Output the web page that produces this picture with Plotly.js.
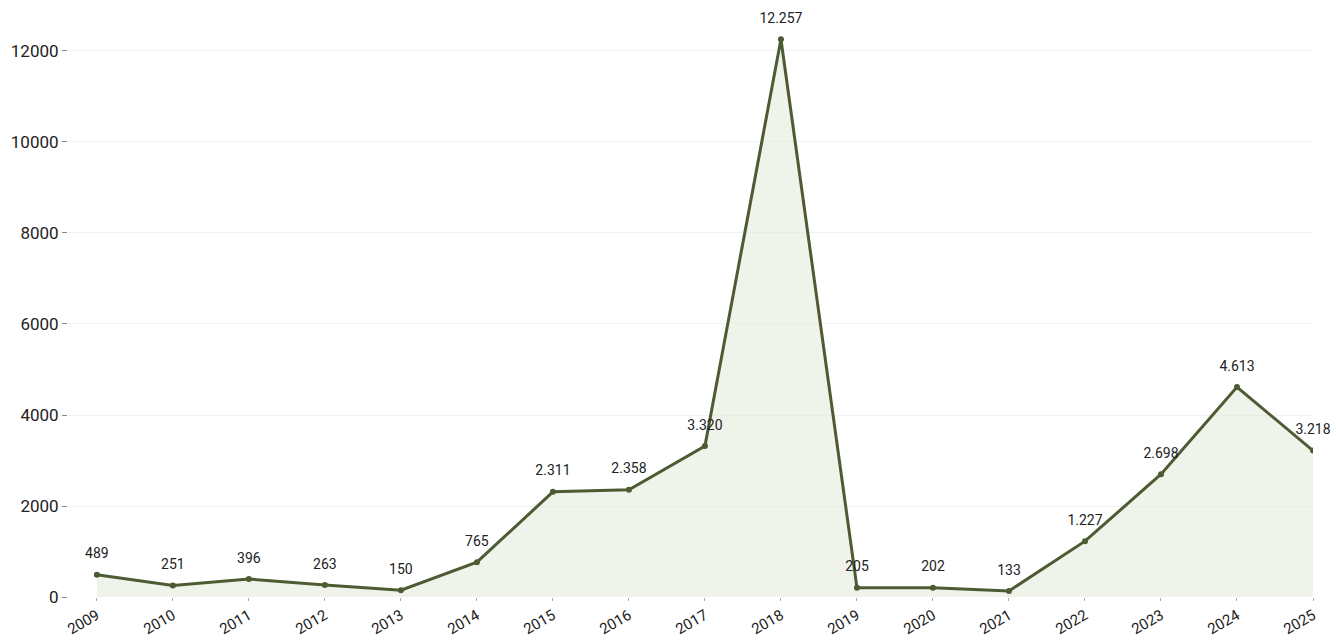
<!DOCTYPE html>
<html>
<head>
<meta charset="utf-8">
<script src="https://cdn.plot.ly/plotly-3.0.1.min.js"></script>
<style>html,body{margin:0;padding:0;background:#fff;}#chart{width:1336px;height:641px;}</style>
</head>
<body>
<div id="chart"></div>
<script>
const years = [2009,2010,2011,2012,2013,2014,2015,2016,2017,2018,2019,2020,2021,2022,2023,2024,2025];
const values = [489,251,396,263,150,765,2311,2358,3320,12257,205,202,133,1227,2698,4613,3218];
const yTicks = [0,2000,4000,6000,8000,10000,12000];

const lineTrace = {
  x: years,
  y: values,
  type: 'scatter',
  mode: 'lines+markers',
  fill: 'tozeroy',
  fillcolor: 'rgba(226,234,216,0.55)',
  line: {color: '#4d5b33', width: 3},
  marker: {color: '#4d5b33', size: 6},
  hoverinfo: 'x+y'
};

const labelTrace = {
  x: years,
  y: values,
  type: 'scatter',
  mode: 'markers+text',
  marker: {color: 'rgba(0,0,0,0)', size: 19},
  texttemplate: '%{y:,d}',
  textposition: 'top center',
  textfont: {family: 'Roboto, sans-serif', size: 14, color: '#222'},
  cliponaxis: false,
  hoverinfo: 'skip'
};

const layout = {
  width: 1336, height: 641,
  margin: {l: 68, r: 23, t: 20, b: 44},
  paper_bgcolor: '#fff', plot_bgcolor: '#fff',
  separators: ',.',
  showlegend: false,
  font: {family: 'Roboto, sans-serif', size: 15, color: '#222'},
  xaxis: {
    range: [2008.62, 2025],
    tickvals: years,
    ticktext: years.map(String),
    tickangle: -30,
    ticks: 'outside', ticklen: 3, tickcolor: '#aaa',
    showgrid: false, zeroline: false, showline: false,
    tickfont: {size: 15, color: '#222'}
  },
  yaxis: {
    range: [0, 12681],
    tickvals: yTicks,
    tickformat: 'd',
    ticks: 'outside', ticklen: 5, tickcolor: '#888',
    showgrid: true, gridcolor: '#f1f1f1', gridwidth: 1,
    zeroline: false, showline: false,
    tickfont: {size: 17, color: '#222'}
  }
};

Plotly.newPlot('chart', [lineTrace, labelTrace], layout, {displayModeBar: false, staticPlot: true});
</script>
</body>
</html>
